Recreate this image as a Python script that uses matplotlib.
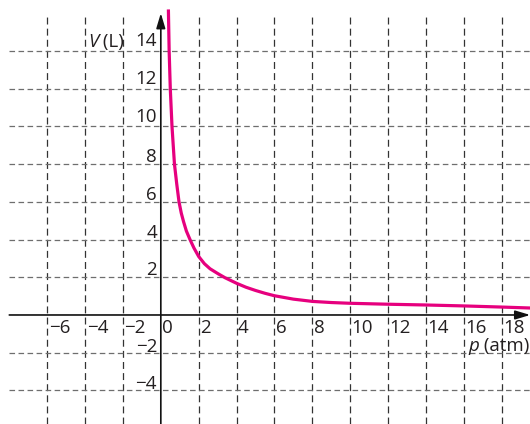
import matplotlib
matplotlib.use("Agg")
import matplotlib.pyplot as plt

plt.rcParams['font.family'] = ['Open Sans', 'DejaVu Sans']
plt.rcParams['lines.scale_dashes'] = False

# Curve data: pressure p (atm) and volume V (L)
p_vals = [0.40, 0.44, 0.50, 0.59, 0.72, 0.84, 0.96, 1.08, 1.2, 1.35, 1.54,
          1.75, 2.0, 2.3, 2.6, 3.0, 3.38, 4.0, 4.5, 5.0, 5.5, 6.0, 7.0, 8.0,
          9.0, 10.0, 12.0, 14.0, 16.0, 18.0, 19.5]
v_vals = [16.2, 14.0, 12.0, 10.0, 8.0, 6.95, 6.0, 5.4, 4.95, 4.45, 4.0,
          3.55, 3.1, 2.72, 2.45, 2.2, 1.98, 1.68, 1.47, 1.3, 1.15, 1.02, 0.84,
          0.72, 0.66, 0.62, 0.57, 0.53, 0.48, 0.42, 0.37]

x_ticks = [-6, -4, -2, 0, 2, 4, 6, 8, 10, 12, 14, 16, 18]
y_ticks = [-4, -2, 2, 4, 6, 8, 10, 12, 14]
x_label = "p"
x_unit = " (atm)"
y_label = "V"
y_unit = " (L)"

XMIN, XMAX = -8.49, 19.49
YMIN, YMAX = -5.78, 16.70
TXT = '#231f20'

fig = plt.figure(figsize=(5.3, 4.24), dpi=100)
ax = fig.add_axes([0, 0, 1, 1])
ax.set_xlim(XMIN, XMAX)
ax.set_ylim(YMIN, YMAX)
ax.axis('off')

# grid
for x in x_ticks:
    if x == 0:
        continue
    ax.plot([x, x], [YMIN, 16.0], color='#333333', lw=0.9,
            linestyle=(0, (5, 3)), zorder=1)
for y in y_ticks:
    ax.plot([-8.0, XMAX], [y, y], color='#6e6e6e', lw=0.9,
            linestyle=(0, (4, 2.5)), zorder=1)

# axes with arrows
arrow = dict(arrowstyle='-|>,head_length=0.6,head_width=0.18', color='#111111',
             lw=1.2, mutation_scale=15, shrinkA=0, shrinkB=0)
ax.annotate('', xy=(0, 16.0), xytext=(0, YMIN), arrowprops=arrow, zorder=3)
ax.annotate('', xy=(19.5, 0), xytext=(-8.0, 0), arrowprops=arrow, zorder=3)

# curve
ax.plot(p_vals, v_vals, color='#E6007E', lw=2.3, solid_joinstyle='round',
        solid_capstyle='butt', zorder=4)

fs = 13.5
for x in x_ticks:
    s = str(x).replace('-', '\u2212')
    ax.text(x + 0.08, -0.95, s, ha='left', va='baseline', fontsize=fs,
            color=TXT, zorder=5)
for y in y_ticks:
    s = str(y).replace('-', '\u2212')
    dy = 0.05 if y < 0 else (0.25 if y >= 10 else 0.1)
    ax.text(-0.2, y + dy, s, ha='right', va='baseline', fontsize=fs,
            color=TXT, zorder=5)

t = ax.text(-1.94, 14.23, y_unit, ha='right', va='baseline', fontsize=fs,
            color=TXT, zorder=5)
fig.canvas.draw()
bb = t.get_window_extent().transformed(ax.transData.inverted())
ax.text(bb.x0, 14.23, y_label, ha='right', va='baseline', fontsize=fs,
        style='italic', color=TXT, zorder=5)

t2 = ax.text(16.22, -1.9, x_label, ha='left', va='baseline', fontsize=fs,
             style='italic', color=TXT, zorder=5)
fig.canvas.draw()
bb2 = t2.get_window_extent().transformed(ax.transData.inverted())
ax.text(bb2.x1, -1.9, x_unit, ha='left', va='baseline', fontsize=fs,
        color=TXT, zorder=5)

fig.savefig('out.png', dpi=100)
